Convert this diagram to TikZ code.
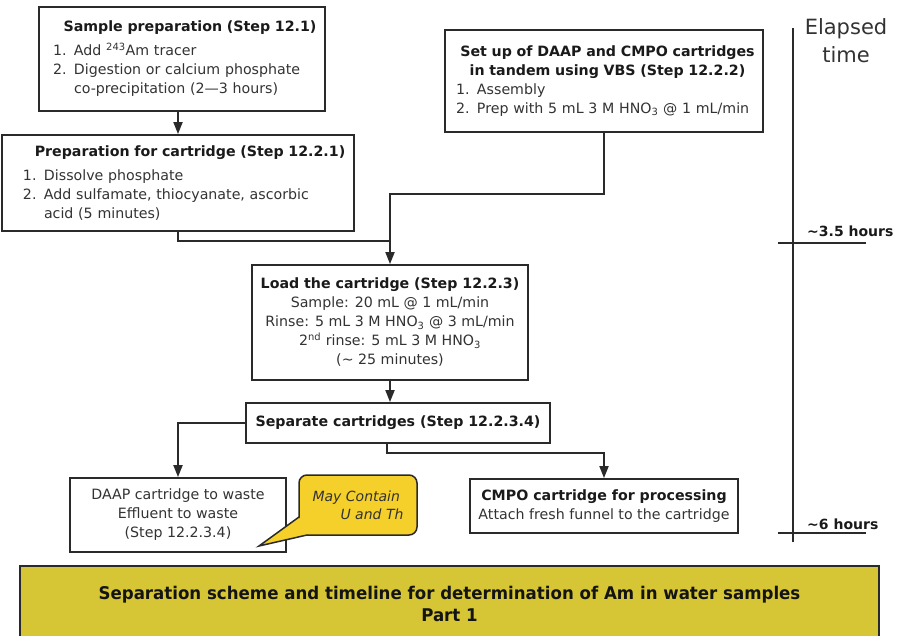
\documentclass[tikz,border=0pt]{standalone}
\usepackage{fontspec}
\setmainfont{DejaVu Sans}
\newfontfamily\bannerfont[FakeStretch=0.95]{DejaVu Sans}
\usetikzlibrary{arrows.meta}
\definecolor{linec}{HTML}{2A2A2A}
\definecolor{txt}{HTML}{333333}
\definecolor{ttl}{HTML}{1A1A1A}
\definecolor{calloutfill}{HTML}{F5CF2A}
\definecolor{bannerfill}{HTML}{D6C635}
\newcommand{\itm}[1]{\makebox[21pt][l]{#1}}
\newcommand{\ind}{\hspace*{21pt}}
\newcommand{\ttlb}[1]{{\color{ttl}\bfseries #1}}
\begin{document}
\begin{tikzpicture}[x=1pt,y=-1pt,
  box/.style={draw=linec, line width=1.8pt, rectangle, inner sep=0pt,
    font=\fontsize{14.2}{19}\selectfont, text=txt},
  conn/.style={draw=linec, line width=1.8pt},
  arr/.style={conn, -{Triangle[length=12pt,width=9pt]}},
  tick/.style={draw=linec, line width=1.6pt},
  ticklbl/.style={anchor=base west, font=\fontsize{14}{16}\selectfont\bfseries, text=ttl, inner sep=0pt}
]
\useasboundingbox (0,0) rectangle (899,636);
\fill[white] (0,0) rectangle (899,636);

% boxes
\node[box, minimum width=286pt, minimum height=104pt, text width=258pt, align=left] (s1) at (182,59)
 {\makebox[258pt]{\hspace{16pt}\ttlb{Sample preparation (Step 12.1)}}\\[5pt]
  \itm{1.}Add \textsuperscript{243}Am tracer\\
  \itm{2.}Digestion or calcium phosphate\\
  \ind co-precipitation (2—3 hours)};

\node[box, minimum width=352pt, minimum height=96pt, text width=310pt, align=left] (s2) at (178,183)
 {\makebox[310pt]{\hspace{24pt}\ttlb{Preparation for cartridge (Step 12.2.1)}}\\[5pt]
  \itm{1.}Dissolve phosphate\\
  \itm{2.}Add sulfamate, thiocyanate, ascorbic\\
  \ind acid (5 minutes)};

\node[box, minimum width=318pt, minimum height=102pt, text width=296pt, align=left] (s3) at (604,81)
 {\makebox[296pt]{\hspace{7pt}\ttlb{Set up of DAAP and CMPO cartridges}}\\
  \makebox[296pt]{\hspace{7pt}\ttlb{in tandem using VBS (Step 12.2.2)}}\\
  \itm{1.}Assembly\\
  \itm{2.}Prep with 5 mL 3 M HNO\textsubscript{3} @ 1 mL/min};

\node[box, minimum width=276pt, minimum height=115pt, align=center] (load) at (390,322.5)
 {\ttlb{Load the cartridge (Step 12.2.3)}\\
  Sample: 20 mL @ 1 mL/min\\
  Rinse: 5 mL 3 M HNO\textsubscript{3} @ 3 mL/min\\
  2\textsuperscript{nd} rinse: 5 mL 3 M HNO\textsubscript{3}\\
  (\textasciitilde{} 25 minutes)};

\node[box, minimum width=304pt, minimum height=40pt, align=center] (sep) at (398,423)
 {\ttlb{Separate cartridges (Step 12.2.3.4)}};

\node[box, minimum width=216pt, minimum height=74pt, align=center] (daap) at (178,515)
 {DAAP cartridge to waste\\Effluent to waste\\(Step 12.2.3.4)};

\node[box, minimum width=268pt, minimum height=54pt, align=center] (cmpo) at (604,506)
 {\ttlb{CMPO cartridge for processing}\\Attach fresh funnel to the cartridge};

% callout
\node[draw=linec, line width=1.5pt, fill=calloutfill, rounded corners=8pt,
  minimum width=118pt, minimum height=60pt, inner sep=0pt, align=left,
  font=\fontsize{14}{18}\selectfont\itshape, text=txt] (co) at (358,505)
 {May Contain\\\hspace*{28pt}U and Th};
\coordinate (tip) at (259,546);
\coordinate (cb1) at (299,517);
\coordinate (cb2) at (307,535);
\fill[calloutfill] (tip) -- (cb1) -- (cb2) -- cycle;
\draw[draw=linec, line width=1.5pt, line join=miter] (cb1) -- (tip) -- (cb2);

% connectors
\draw[arr] (s1.south -| s2.north) -- (s2.north);
\coordinate (j) at (390,241);
\draw[conn] (s2.south) |- (j);
\coordinate (k) at (604,194);
\draw[arr] (s3.south) -- (k) -| (load.north);
\draw[arr] (load.south) -- (load.south |- sep.north);
\draw[arr] (sep.west) -| (daap.north);
\coordinate (m) at (387,453);
\draw[arr] (sep.south -| m) -- (m) -| (cmpo.north);

% timeline
\coordinate (tltop) at (793,28);
\coordinate (tlbot) at (793,542);
\draw[tick] (tltop) -- (tlbot);
\node[align=center, font=\fontsize{21}{28}\selectfont, text=txt, inner sep=0pt] (et) at (846,41) {Elapsed\\time};
\coordinate (t1a) at (778,243);
\coordinate (t1b) at (866,243);
\draw[tick] (t1a) -- (t1b);
\node[ticklbl] (l1) at (807,237) {\textasciitilde3.5 hours};
\coordinate (t2a) at (778,533);
\coordinate (t2b) at (866,533);
\draw[tick] (t2a) -- (t2b);
\node[ticklbl] (l2) at (807,529) {\textasciitilde6 hours};

% banner
\node[draw=linec, line width=1.5pt, fill=bannerfill, minimum width=859pt, minimum height=80pt,
  inner sep=0pt, text=black!92,
  font=\bannerfont\bfseries\fontsize{17.5}{22}\selectfont] (banner) at (449.5,606)
 {\raisebox{3pt}{\begin{tabular}{@{}c@{}}Separation scheme and timeline for determination of Am in water samples\\Part 1\end{tabular}}};
\end{tikzpicture}
\end{document}
